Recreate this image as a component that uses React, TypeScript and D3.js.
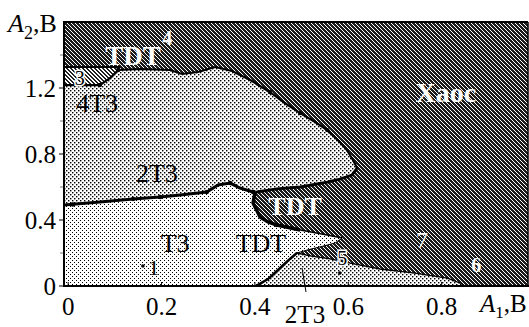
import * as d3 from 'd3';

type Pt = [number, number];

// axes
const xDomain: [number, number] = [-0.009, 0.985];
const yDomain: [number, number] = [0, 1.6];
const xTicks = [0, 0.2, 0.4, 0.6, 0.8];
const xTickLabels = ['0', '0.2', '0.4', '0.6', '0.8'];
const yTicks = [0, 0.4, 0.8, 1.2];
const yTickLabels = ['0', '0.4', '0.8', '1.2'];
const yMinorTicks = [0.2, 0.6, 1.0, 1.4];

// region boundaries (A1, A2 in volts)
const upperTop: Pt[] = [
  [-0.009, 1.218], [0.068, 1.218], [0.090, 1.261], [0.107, 1.309], [0.154, 1.315],
  [0.218, 1.309], [0.244, 1.285], [0.278, 1.297], [0.315, 1.327], [0.351, 1.303],
  [0.390, 1.248], [0.432, 1.176], [0.464, 1.109], [0.497, 1.048], [0.529, 0.994],
  [0.555, 0.945], [0.582, 0.873], [0.597, 0.824], [0.610, 0.764], [0.619, 0.715],
];
const upperTipLower: Pt[] = [
  [0.619, 0.715], [0.608, 0.673], [0.582, 0.648], [0.555, 0.630], [0.497, 0.600],
  [0.447, 0.588], [0.405, 0.570], [0.400, 0.564],
];
const splitLine: Pt[] = [
  [-0.009, 0.491], [0.068, 0.509], [0.139, 0.527], [0.197, 0.539], [0.240, 0.552],
  [0.297, 0.570], [0.321, 0.612], [0.347, 0.624], [0.368, 0.594], [0.396, 0.570],
  [0.400, 0.564],
];
const bubbleLeft: Pt[] = [
  [0.400, 0.564], [0.396, 0.503], [0.411, 0.418], [0.428, 0.388], [0.447, 0.370],
  [0.497, 0.339], [0.555, 0.309], [0.587, 0.291],
];
const tongueLower: Pt[] = [
  [0.587, 0.291], [0.572, 0.261], [0.555, 0.248], [0.512, 0.218], [0.490, 0.200],
];
const bottomCurve: Pt[] = [
  [0.490, 0.200], [0.475, 0.164], [0.454, 0.109], [0.428, 0.042], [0.402, 0],
];
const wedgeTop: Pt[] = [
  [0.490, 0.200], [0.518, 0.182], [0.561, 0.164], [0.604, 0.139], [0.668, 0.103],
  [0.739, 0.079], [0.812, 0.048], [0.840, 0.018], [0.850, 0],
];
const region3: Pt[] = [
  [-0.009, 1.327], [0.111, 1.327], [0.107, 1.309], [0.090, 1.261], [0.068, 1.218], [-0.009, 1.218],
];
const markers: Pt[] = [
  [0.01, 0.494], [0.139, 0.527], [0.197, 0.539], [0.297, 0.570], [0.347, 0.624], [0.396, 0.570],
  [0.107, 1.309], [0.068, 1.218], [0.432, 1.176], [0.497, 1.048], [0.555, 0.945], [0.447, 0.370],
];
const dots: Pt[] = [[0.160, 0.121], [0.582, 0.079]];

const font = "'Liberation Serif'";

export default function App() {
  const x = d3.scaleLinear().domain(xDomain).range([64, 528]);
  const y = d3.scaleLinear().domain(yDomain).range([286, 22]);
  const line = d3.line<Pt>().x(d => x(d[0])).y(d => y(d[1]));
  const poly = (pts: Pt[]) => line(pts) + 'Z';

  const upperRegion = [...upperTop, ...upperTipLower.slice(1), ...splitLine.slice().reverse().slice(1)];
  const t3Region: Pt[] = [...splitLine, ...bubbleLeft.slice(1), ...tongueLower.slice(1), ...bottomCurve.slice(1), [xDomain[0], 0]];
  const wedgeRegion: Pt[] = [...bottomCurve.slice().reverse(), ...wedgeTop.slice(1)];

  const label = (t: string, dx: number, dy: number, size: number, opts: { fill?: string; bold?: boolean; halo?: boolean } = {}) => (
    <text
      key={t + dx}
      x={x(dx)}
      y={y(dy)}
      textAnchor="middle"
      style={{ fontFamily: font }}
      fontSize={size}
      fontWeight={opts.bold ? 'bold' : 'normal'}
      fill={opts.fill ?? '#000'}
      stroke={opts.halo ? '#fff' : 'none'}
      strokeWidth={opts.halo ? 3 : 0}
      paintOrder="stroke"
    >{t}</text>
  );

  return (
    <svg width={529} height={327} style={{ position: 'absolute', left: 0, top: 0, background: '#fff' }}>
      <defs>
        <pattern id="chaos" width={4} height={4} patternUnits="userSpaceOnUse">
          <rect width={4} height={4} fill="#1c1c1c" />
          {[0, 1, 2, 3].map(i => <rect key={i} x={i} y={i} width={1} height={1} fill="#fff" />)}
        </pattern>
        <pattern id="hatch3" width={4} height={4} patternUnits="userSpaceOnUse">
          <rect width={4} height={4} fill="#222" />
          {[0, 1, 2, 3].map(i => <rect key={i} x={i} y={i} width={1} height={1} fill="#fff" />)}
          {[0, 1, 2, 3].map(i => <rect key={'b' + i} x={(i + 1) % 4} y={i} width={1} height={1} fill="#fff" />)}
        </pattern>
        <pattern id="dense" width={4} height={4} patternUnits="userSpaceOnUse">
          <rect width={4} height={4} fill="#fff" />
          <rect x={0} y={0} width={1.4} height={1.4} fill="#000" />
          <rect x={2} y={2} width={1.4} height={1.4} fill="#000" />
        </pattern>
        <pattern id="light" width={4} height={4} patternUnits="userSpaceOnUse">
          <rect width={4} height={4} fill="#fff" />
          <rect x={0} y={0} width={1} height={1} fill="#000" />
          <rect x={2} y={2} width={1} height={1} fill="#000" />
        </pattern>
        <clipPath id="plot">
          <rect x={64} y={22} width={464} height={264} />
        </clipPath>
      </defs>

      <g clipPath="url(#plot)">
        <rect x={64} y={22} width={464} height={264} fill="url(#chaos)" />
        <path d={poly(upperRegion)} fill="url(#dense)" />
        <path d={poly(t3Region)} fill="url(#light)" />
        <path d={poly(wedgeRegion)} fill="url(#dense)" />
        <path d={poly(region3)} fill="url(#hatch3)" />

        <path d={line(upperTop)!} fill="none" stroke="#000" strokeWidth={2.2} />
        <path d={line(upperTipLower)!} fill="none" stroke="#000" strokeWidth={2.8} />
        <path d={line(region3.slice(0, 2))!} fill="none" stroke="#000" strokeWidth={2} />
        <path d={line(splitLine)!} fill="none" stroke="#000" strokeWidth={3} />
        <path d={line(bubbleLeft.slice(0, 6))!} fill="none" stroke="#000" strokeWidth={3.5} />
        <path d={line(bubbleLeft.slice(5))!} fill="none" stroke="#000" strokeWidth={1.5} />
        <path d={line(tongueLower)!} fill="none" stroke="#000" strokeWidth={1} />
        <path d={line(bottomCurve)!} fill="none" stroke="#000" strokeWidth={2.5} />
        <path d={line(wedgeTop)!} fill="none" stroke="#000" strokeWidth={1.3} />
        {markers.map((d, i) => <circle key={i} cx={x(d[0])} cy={y(d[1])} r={2.2} fill="#000" />)}
        {dots.map((d, i) => <circle key={'d' + i} cx={x(d[0])} cy={y(d[1])} r={1.8} fill="#000" />)}
      </g>

      {/* frame and axes */}
      <line x1={63} x2={528} y1={22} y2={22} stroke="#000" strokeWidth={2} />
      <line x1={528} x2={528} y1={22} y2={287} stroke="#000" strokeWidth={1.5} />
      <line x1={64} x2={64} y1={21} y2={287} stroke="#000" strokeWidth={2} />
      <line x1={63} x2={529} y1={286} y2={286} stroke="#000" strokeWidth={2} />

      {yTicks.map((t, i) => (
        <g key={'y' + t}>
          <line x1={59} x2={64} y1={y(t)} y2={y(t)} stroke="#000" strokeWidth={1} />
          <text x={56} y={y(t) + 9} textAnchor="end" fontSize={25} style={{ fontFamily: font }}>{yTickLabels[i]}</text>
        </g>
      ))}
      {yMinorTicks.map(t => (
        <line key={'ym' + t} x1={60} x2={63} y1={y(t)} y2={y(t)} stroke="#777" strokeWidth={1} />
      ))}
      {xTicks.map((t, i) => (
        <g key={'x' + t}>
          <line x1={x(t)} x2={x(t)} y1={282} y2={287} stroke="#000" strokeWidth={1} />
          <text x={x(t)} y={315} textAnchor="middle" fontSize={25} style={{ fontFamily: font }}>{xTickLabels[i]}</text>
        </g>
      ))}

      {/* axis titles */}
      <text x={8} y={32} fontSize={26} style={{ fontFamily: font }}>
        <tspan fontStyle="italic">A</tspan>
        <tspan fontSize={18} dy={7}>2</tspan>
        <tspan dy={-7}>,B</tspan>
      </text>
      <text x={480} y={312} fontSize={25} style={{ fontFamily: font }}>
        <tspan fontStyle="italic">A</tspan>
        <tspan fontSize={17} dy={6}>1</tspan>
        <tspan dy={-6}>,B</tspan>
      </text>

      {/* region labels */}
      {label('TDT', 0.139, 1.339, 27, { fill: '#fff', bold: true })}
      {label('4', 0.212, 1.461, 20, { fill: '#fff', bold: true })}
      {label('3', 0.025, 1.218, 20, { halo: true })}
      {label('4T3', 0.062, 1.055, 26)}
      {label('2T3', 0.190, 0.630, 26)}
      {label('T3', 0.229, 0.206, 26)}
      {label('1', 0.183, 0.067, 22)}
      {label('TDT', 0.413, 0.206, 26)}
      {label('TDT', 0.486, 0.430, 26, { fill: '#fff', bold: true })}
      {label('5', 0.587, 0.127, 20, { halo: true })}
      {label('Xaoc', 0.809, 1.115, 28, { fill: '#fff', bold: true })}
      {label('7', 0.758, 0.230, 24, { fill: '#fff' })}
      {label('6', 0.874, 0.085, 20, { fill: '#fff', bold: true })}

      <line x1={302} x2={306} y1={268} y2={292} stroke="#000" strokeWidth={1} />
      <text x={305} y={323} textAnchor="middle" fontSize={25} style={{ fontFamily: font }}>2T3</text>
    </svg>
  );
}
